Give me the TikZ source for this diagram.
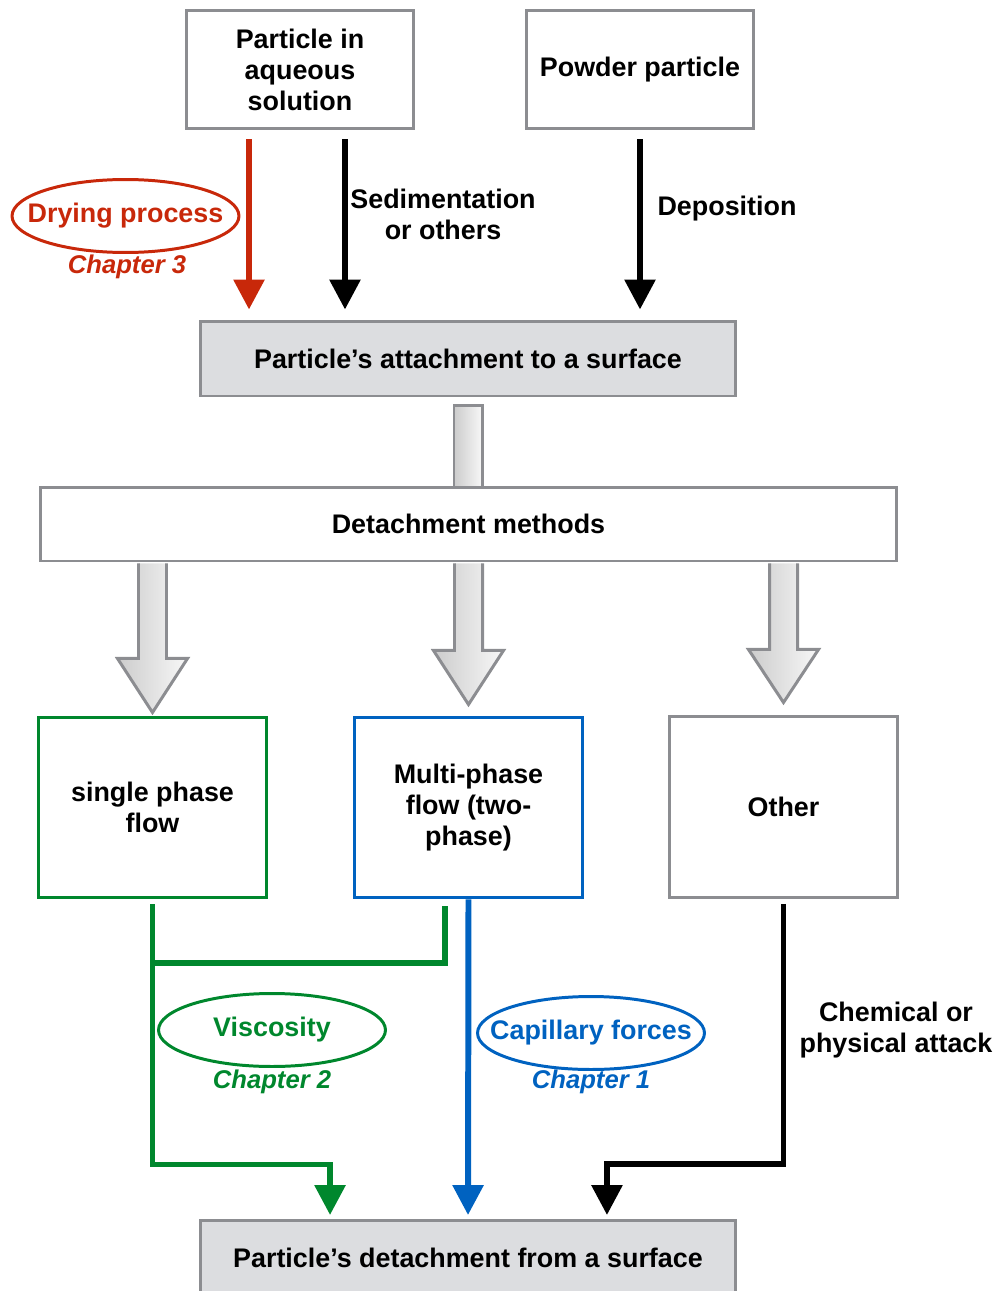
\documentclass[tikz,border=0pt]{standalone}
\usepackage{fontspec}
\setmainfont{Liberation Sans}
\usetikzlibrary{arrows.meta,calc,shapes.geometric}
\definecolor{dryred}{RGB}{200,40,10}
\definecolor{viscgreen}{RGB}{0,135,45}
\definecolor{capblue}{RGB}{0,98,192}
\definecolor{boxgray}{RGB}{140,141,145}
\definecolor{fillgray}{RGB}{220,221,224}
\newcommand{\diafont}{\fontsize{15.3}{17.6}\selectfont\bfseries}
\tikzset{
  every node/.style={font=\diafont},
  box/.style={draw=#1, line width=1.7pt, fill=white, align=center,
    minimum width=4.56cm, minimum height=3.62cm, inner sep=0pt},
  box/.default=boxgray,
  greybox/.style={draw=boxgray, line width=1.7pt, fill=fillgray,
    minimum width=10.72cm, minimum height=1.5cm},
  oval/.style={ellipse, draw=#1, text=#1, line width=1.7pt,
    minimum width=4.54cm, minimum height=1.46cm, inner xsep=-12pt, inner ysep=0pt},
  chap/.style={text=#1, font=\fontsize{14.6}{17}\selectfont\bfseries\itshape},
  flow/.style 2 args={draw=#1, line width=3.4pt, line join=miter,
    -{Triangle[length=17pt,width=17pt]}, shorten >=#2},
  link/.style={draw=#1, line width=3.4pt},
  hollow/.style={draw=boxgray, line width=1.7pt, line join=miter,
    left color=black!20, right color=black!3},
}
\begin{document}
\begin{tikzpicture}[x=0.02cm,y=-0.02cm]
  \useasboundingbox (0,0) rectangle (998,1291);

  % sources
  \node[box,minimum height=2.38cm] (aqueous) at (300,69.5) {Particle in\\aqueous\\solution};
  \node[box,minimum height=2.38cm] (powder) at (640,69.5) {Powder particle};

  % attachment and methods
  \node[greybox] (attach) at (468,358.5) {Particle's attachment to a surface};
  \draw[hollow] ($(attach.south)+(-14,8)$) rectangle ($(attach.south)+(14,91)$);
  \node[box,minimum width=17.14cm,minimum height=1.48cm] (methods) at (468.5,524) {Detachment methods};

  % methods
  \node[box=viscgreen] (single) at (152.5,807.5) {single phase\\flow};
  \node[box=capblue] (multi) at (468.5,807.5) {Multi-phase\\flow (two-\\phase)};
  \node[box] (other) at (783.5,807) {Other};
  \node[greybox] (detach) at (468,1258) {Particle's detachment from a surface};

  % hollow arrows
  \coordinate (h1) at (single.north |- methods.south);
  \coordinate (h2) at (multi.north |- methods.south);
  \coordinate (h3) at (other.north |- methods.south);
  \draw[hollow] ($(h1)+(-14,1)$) -- ++(0,95) -- ++(-21,0) -- ($(h1)+(0,150)$) -- ($(h1)+(35,96)$) -- ++(-21,0) -- ($(h1)+(14,1)$);
  \draw[hollow] ($(h2)+(-14,1)$) -- ++(0,87) -- ++(-21,0) -- ($(h2)+(0,142)$) -- ($(h2)+(35,88)$) -- ++(-21,0) -- ($(h2)+(14,1)$);
  \draw[hollow] ($(h3)+(-14,1)$) -- ++(0,86) -- ++(-21,0) -- ($(h3)+(0,140)$) -- ($(h3)+(35,87)$) -- ++(-21,0) -- ($(h3)+(14,1)$);

  % top arrows
  \coordinate (redtop) at ([xshift=-1.02cm,yshift=-0.18cm]aqueous.south);
  \coordinate (sedtop) at ([xshift=0.9cm,yshift=-0.18cm]aqueous.south);
  \coordinate (deptop) at ([yshift=-0.18cm]powder.south);
  \draw[flow={dryred}{0.2cm}] (redtop) -- (redtop |- attach.north);
  \draw[flow={black}{0.2cm}] (sedtop) -- (sedtop |- attach.north);
  \draw[flow={black}{0.2cm}] (deptop) -- (deptop |- attach.north);
  \node[align=center] (sedlabel) at (443,214) {Sedimentation\\or others};
  \node (deplabel) at (727,209) {Deposition};
  \node[oval=dryred] (drying) at (125.5,216) {Drying process};
  \node[chap=dryred] (chap3) at (127,267) {Chapter 3};

  % bottom connectors
  \draw[link=viscgreen] ([xshift=-0.47cm,yshift=-0.14cm]multi.south) -- ++(0,57) -- ++(-292,0);
  \draw[flow={viscgreen}{0.08cm}] ([yshift=-0.1cm]single.south) -- ++(0,260) -| ([xshift=-2.76cm]detach.north);
  \draw[flow={capblue}{0.08cm}] (multi.south) -- (detach.north);
  \draw[flow={black}{0.08cm}] ([yshift=-0.1cm]other.south) -- ++(0,260) -| ([xshift=2.78cm]detach.north);
  \node[oval=viscgreen] (viscosity) at (272,1030) {Viscosity};
  \node[chap=viscgreen] (chap2) at (272,1082) {Chapter 2};
  \node[oval=capblue] (capillary) at (591,1033) {Capillary forces};
  \node[chap=capblue] (chap1) at (591,1082) {Chapter 1};
  \node[align=center] (chemlabel) at (896,1030) {Chemical or\\physical attack};
\end{tikzpicture}
\end{document}
